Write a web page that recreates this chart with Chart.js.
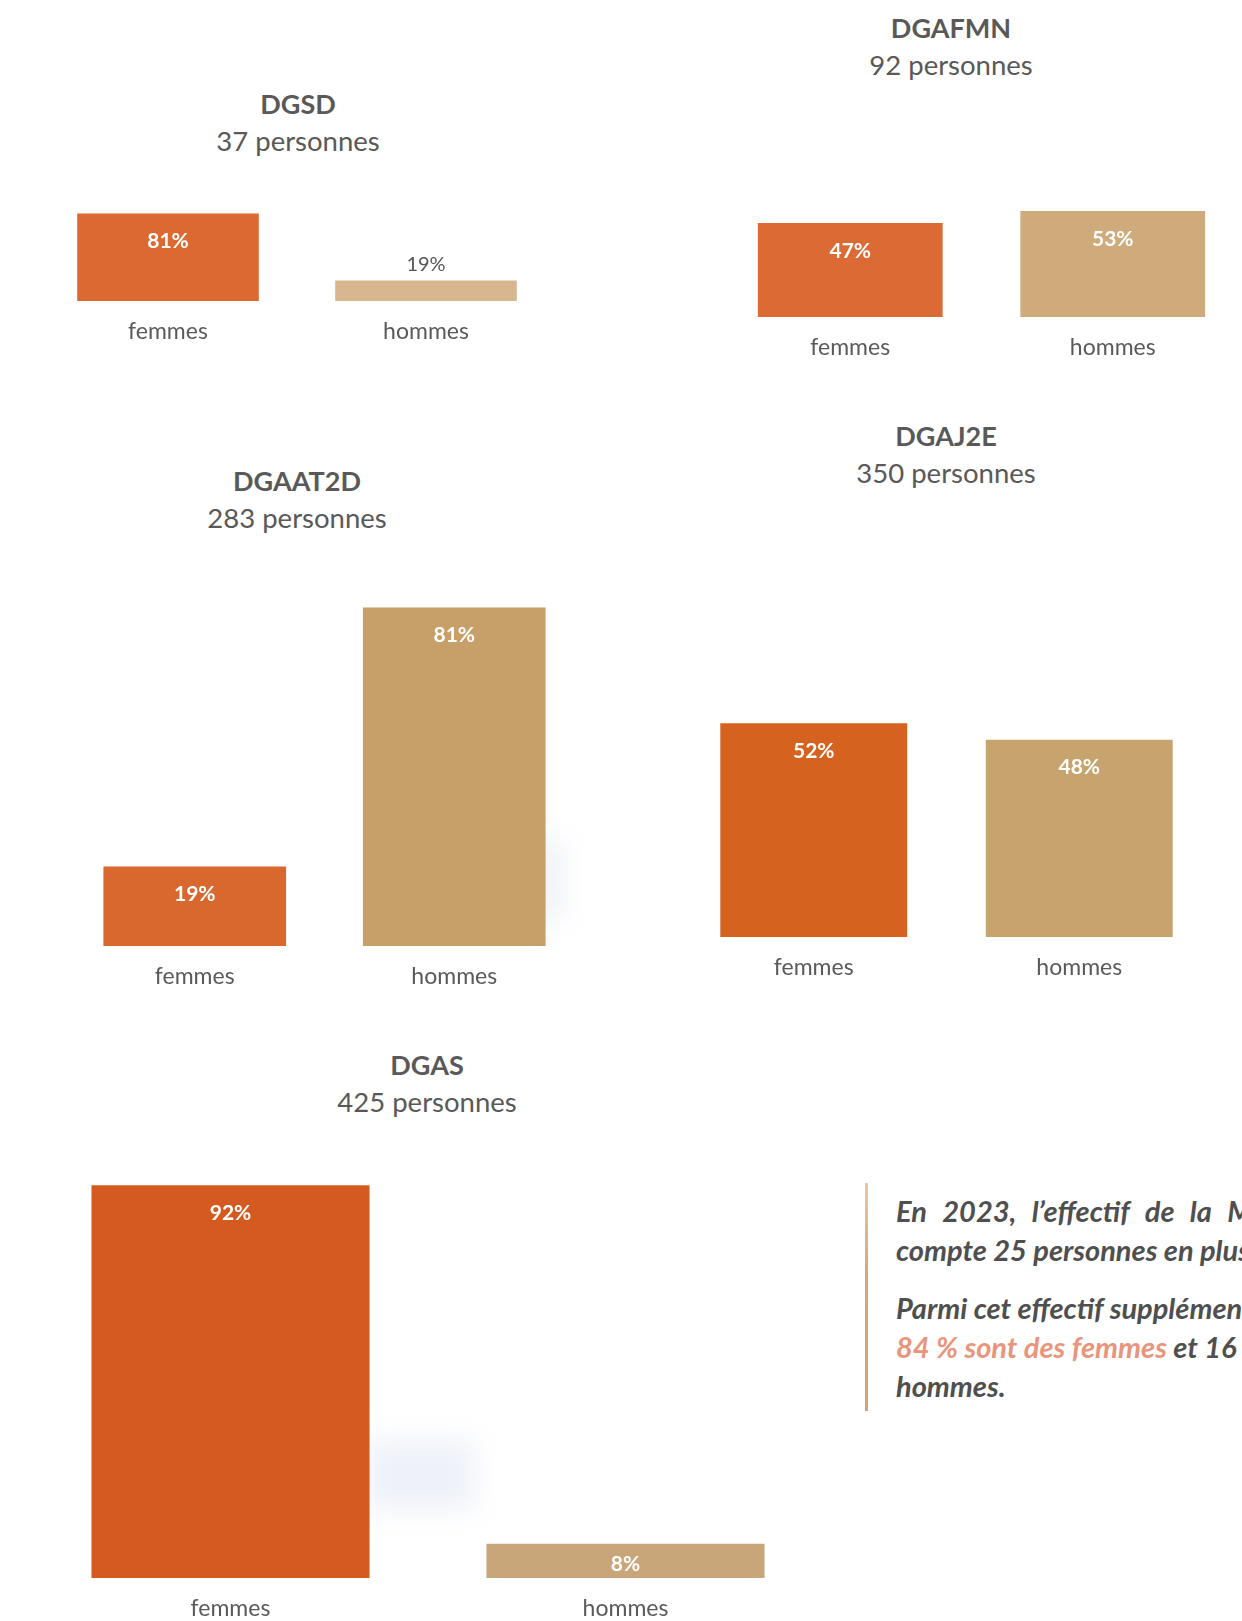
<!DOCTYPE html>
<html lang="fr">
<head>
<meta charset="utf-8">
<script src="https://cdn.jsdelivr.net/npm/chart.js@4.4.1/dist/chart.umd.min.js"></script>
<style>
  html, body { margin:0; padding:0; background:#ffffff; }
  body { width:1242px; height:1621px; overflow:hidden; position:relative; }
  .chartbox { position:absolute; }
  .title { position:absolute; transform:translateX(-50%); text-align:center; font-family:Lato, "Open Sans", sans-serif;
           color:#595959; font-size:27.5px; line-height:37px; white-space:nowrap; }
  .title b { font-weight:700; font-size:27px; }
  .rule { position:absolute; left:865px; top:1183px; width:3px; height:228px;
          background:linear-gradient(to bottom, #e9c6a6, #d9a57c 40%, #d6a07c); }
  .note { position:absolute; left:896px; font-family:Lato, "Open Sans", sans-serif; font-style:italic; font-weight:700;
          font-size:29px; color:#4f4f4f; white-space:nowrap; line-height:39px; }
  .note .hl { color:#e8957b; }
  .haze { position:absolute; filter:blur(14px); background:rgba(200,210,230,0.35); }
</style>
</head>
<body>
<div class="haze" style="left:535px;top:840px;width:25px;height:80px;"></div>
<div class="haze" style="left:365px;top:1440px;width:110px;height:70px;background:rgba(200,210,235,0.3);"></div>
<div class="rule"></div>
<div class="note" style="top:1191px;word-spacing:9px;">En 2023, l’effectif de la Métropole</div>
<div class="note" style="top:1230px;">compte 25 personnes en plus par rapport à 2022.</div>
<div class="note" style="top:1288px;">Parmi cet effectif supplémentaire,</div>
<div class="note" style="top:1327px;"><span class="hl">84 % sont des femmes</span> et 16 % des</div>
<div class="note" style="top:1366px;">hommes.</div>

<script>
// ---- data ----
const categories = ['femmes', 'hommes'];
const directions = ['DGSD', 'DGAFMN', 'DGAAT2D', 'DGAJ2E', 'DGAS'];
const effectifs  = [37, 92, 283, 350, 425];
const femmesPct  = [81, 47, 19, 52, 92];
const hommesPct  = [19, 53, 81, 48, 8];

// ---- layout (positions / sizes only) ----
const layouts = [
  { left: 39,    top: 192.5,  width: 516, plot: 108, tx: 298, ty: 85  },
  { left: 719,   top: 117,    width: 525, plot: 200, tx: 951, ty: 9   },
  { left: 65,    top: 527.5,  width: 519, plot: 418, tx: 297, ty: 462 },
  { left: 681,   top: 526,    width: 531, plot: 411, tx: 946, ty: 417 },
  { left: 32.5,  top: 1151,   width: 790, plot: 427, tx: 427, ty: 1046 }
];
const LABEL_AREA = 60;
const femmesColors = ['#dc6932', '#dc6a34', '#d9682f', '#d6621f', '#d45a1f'];
const hommesColors = ['#d8b68f', '#cfab7b', '#c6a068', '#c7a46e', '#c9a679'];
const FONT = 'Lato, "Open Sans", sans-serif';

const valueLabels = {
  id: 'valueLabels',
  afterDatasetsDraw(chart) {
    const ctx = chart.ctx;
    const meta = chart.getDatasetMeta(0);
    const data = chart.data.datasets[0].data;
    meta.data.forEach((bar, i) => {
      const h = bar.base - bar.y;
      const txt = data[i] + '%';
      ctx.save();
      ctx.textAlign = 'center';
      ctx.textBaseline = 'middle';
      if (h >= 56) {
        ctx.font = '700 21px ' + FONT;
        ctx.fillStyle = '#ffffff';
        ctx.fillText(txt, bar.x, bar.y + 28);
      } else if (h >= 30) {
        ctx.font = '700 21px ' + FONT;
        ctx.fillStyle = '#ffffff';
        ctx.fillText(txt, bar.x, (bar.y + bar.base) / 2 + 3);
      } else {
        ctx.font = '400 20px ' + FONT;
        ctx.fillStyle = '#555555';
        ctx.fillText(txt, bar.x, bar.y - 16);
      }
      ctx.restore();
    });
  }
};

directions.forEach((name, i) => {
  const L = layouts[i];
  const t = document.createElement('div');
  t.className = 'title';
  t.style.left = L.tx + 'px';
  t.style.top = L.ty + 'px';
  t.innerHTML = '<b>' + name + '</b><br>' + effectifs[i] + ' personnes';
  document.body.appendChild(t);

  const box = document.createElement('div');
  box.className = 'chartbox';
  box.style.left = L.left + 'px';
  box.style.top = L.top + 'px';
  box.style.width = L.width + 'px';
  box.style.height = (L.plot + LABEL_AREA) + 'px';
  const cv = document.createElement('canvas');
  box.appendChild(cv);
  document.body.appendChild(box);

  new Chart(cv, {
    type: 'bar',
    data: {
      labels: categories,
      datasets: [{
        data: [femmesPct[i], hommesPct[i]],
        backgroundColor: [femmesColors[i], hommesColors[i]],
        borderWidth: 0,
        barPercentage: 0.704,
        categoryPercentage: 1
      }]
    },
    options: {
      responsive: true,
      maintainAspectRatio: false,
      animation: false,
      layout: { padding: 0 },
      plugins: { legend: { display: false }, tooltip: { enabled: false }, title: { display: false } },
      scales: {
        x: {
          grid: { display: false, drawTicks: false },
          border: { display: false },
          ticks: { color: '#5a5a5a', font: { family: FONT, size: 23 }, padding: 17 },
          afterFit: (axis) => { axis.height = LABEL_AREA; }
        },
        y: { display: false, min: 0, max: 100 }
      }
    },
    plugins: [valueLabels]
  });
});
</script>
</body>
</html>
